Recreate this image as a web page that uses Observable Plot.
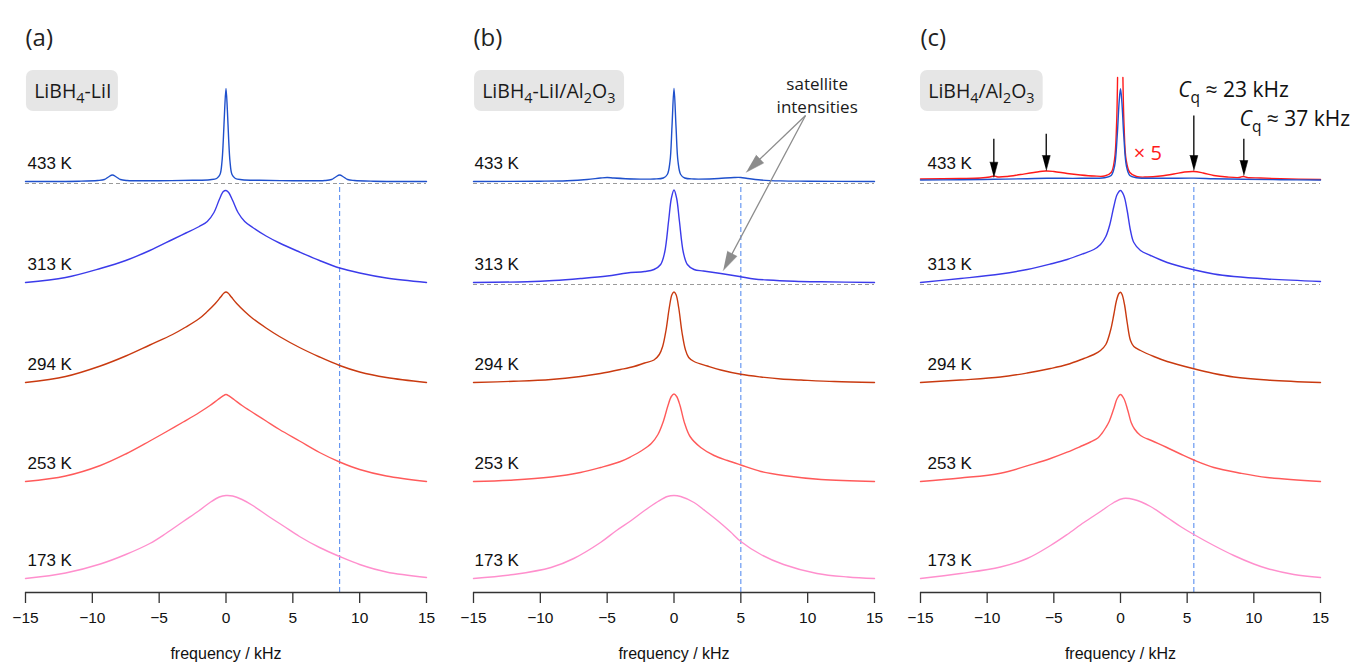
<!DOCTYPE html>
<html><head><meta charset="utf-8">
<script src="https://cdn.jsdelivr.net/npm/d3@7"></script>
<script src="https://cdn.jsdelivr.net/npm/@observablehq/plot@0.6"></script>
<style>
body{margin:0;background:#fff;}
#wrap{position:relative;width:1353px;height:665px;overflow:hidden;background:#fff;}
#wrap svg{position:absolute;top:0;overflow:visible;}
</style></head><body><div id="wrap"></div>
<script>
// ---------- data ----------
const temperatures = ["433 K", "313 K", "294 K", "253 K", "173 K"];
const offsets = [411, 310, 210, 111, 14];          // stacking offsets of the spectra
const traceColors = ["#1f50cc", "#3b3bea", "#c93a10", "#ff5a5a", "#ff8fcd"];
const xTicks = [-15, -10, -5, 0, 5, 10, 15];

// (a) LiBH4-LiI  [frequency kHz, intensity]
const a433 = [[-15,0],[-11,0.3],[-9.6,1],[-9.1,2],[-8.8,4.5],[-8.5,6.5],[-8.2,4.5],[-7.9,2],[-7.4,1],[-5,0.8],[-2.5,1.2],[-1.2,1.8],[-0.7,3],[-0.45,7],[-0.3,20],[-0.2,42],[-0.1,72],[0,93],[0.1,72],[0.2,42],[0.3,20],[0.45,7],[0.7,3],[1.2,1.8],[2.5,1.2],[5,0.8],[7.4,1],[7.9,2],[8.2,4.5],[8.5,6.5],[8.8,4.5],[9.1,2],[9.6,1],[11,0.3],[15,0]];
const a313 = [[-15,0],[-12,5],[-9.4,14],[-7.5,22],[-5.7,32],[-4,43],[-3,49.5],[-2,56],[-1.4,61],[-0.9,70],[-0.5,83],[-0.2,91],[0,92],[0.2,90],[0.5,82],[0.9,70],[1.4,61],[2,55],[3,46.5],[4,39.5],[5.5,30.5],[7,22],[8.5,14.5],[10,9.5],[12,4.5],[15,0]];
const a294 = [[-15,0],[-12,6],[-9.4,16.5],[-7.5,26.5],[-5.7,37.5],[-4,48],[-3,55.5],[-2,64],[-1.4,71],[-0.8,79],[-0.4,85.5],[-0.15,89.5],[0,90.5],[0.15,89.5],[0.4,85.5],[0.8,79],[1.4,71],[2,64],[3,54.5],[4,46],[5.5,35],[7,25.5],[8.5,17],[10,10.5],[12,5],[15,0]];
const a253 = [[-15,0],[-12,5.5],[-9.4,16],[-7.5,27.5],[-5.7,40.5],[-4.5,49.5],[-3.2,59.5],[-2,69],[-1.2,76],[-0.6,82],[-0.25,85.3],[0,87],[0.25,85.3],[0.6,82],[1.2,76],[2,69],[3,60.5],[4,52],[5.5,40.5],[7,29],[8.5,19.5],[10,12],[12,5.5],[15,0]];
const a173 = [[-15,0],[-12,5.5],[-9.4,14.5],[-7.5,24],[-5.7,35],[-4.5,45],[-3.2,57],[-2,68],[-1.2,76],[-0.5,81.5],[0,83],[0.5,82.5],[1.2,79],[2,73],[3.2,62],[4.3,52.5],[5.5,42],[7,31],[8.5,22],[10,14],[12,6.5],[15,1]];

// (b) LiBH4-LiI/Al2O3
const b433 = [[-15,0],[-10,0.3],[-8,0.8],[-6.5,2],[-5.5,3.5],[-5,4],[-4.5,3.5],[-3,2.5],[-1.5,2.5],[-0.8,3.5],[-0.5,7],[-0.3,20],[-0.15,55],[0,93],[0.15,55],[0.3,20],[0.5,7],[0.8,3.5],[1.5,2.5],[3,2.8],[4.5,4],[5,4],[5.5,3],[6.5,1.5],[8,0.6],[10,0.3],[15,0]];
const b313 = [[-15,0],[-11,0.8],[-9,2],[-7,4],[-5,6.5],[-3.5,9.5],[-2.2,11],[-1.5,13],[-1,18],[-0.7,30],[-0.4,62],[-0.2,84],[0,92.5],[0.2,84],[0.4,62],[0.7,30],[1,18],[1.5,13],[2.2,11.5],[3.5,9],[4.9,6],[6,3.5],[7,2.5],[9,1.3],[11,0.7],[15,0]];
const b294 = [[-15,0],[-12,1.2],[-9.2,3],[-7,6],[-5.5,9],[-4,13],[-3,16],[-2.2,19.5],[-1.5,22.5],[-1.1,28],[-0.85,36],[-0.6,52],[-0.35,75],[-0.15,88],[0,90.5],[0.15,88],[0.35,75],[0.6,50],[0.85,33],[1.1,25],[1.5,21],[2.5,16.5],[3.5,12.5],[5,8.2],[6.5,5.5],[8,3.5],[9.5,2.5],[12,1],[15,0]];
const b253 = [[-15,0],[-12,1.5],[-9.2,4.5],[-7,9],[-5.5,14],[-4,20],[-3.2,25],[-2.4,31],[-1.7,38],[-1.2,47],[-0.8,60],[-0.45,76],[-0.2,85],[0,87.5],[0.2,85],[0.45,76],[0.8,58],[1.2,45],[2,34],[3,26],[4,21],[5,16.5],[6.5,10],[8.2,6],[11,2],[15,0]];
const b173 = [[-15,0],[-12,4],[-9.2,11],[-7.5,20],[-5.5,36],[-4.3,48],[-3.2,58],[-2.2,68],[-1.2,77],[-0.5,82],[0,83],[0.5,82],[1.5,76],[2.3,68],[3.25,58],[4.2,47],[5,37],[6.5,24],[8.2,14],[10.7,5],[13,1.5],[15,0]];

// (c) LiBH4/Al2O3
const c433 = [[-15,1.5],[-12,1.8],[-9.5,2.2],[-7,2.8],[-5.5,3.2],[-3,3.2],[-1.2,3.8],[-0.7,6],[-0.45,15],[-0.25,45],[-0.1,80],[0,92.7],[0.1,80],[0.25,45],[0.45,15],[0.7,6],[1.2,3.8],[3,3.2],[5.5,3.4],[7,2.8],[9.2,2.2],[12,1.8],[15,1.5]];
const c313 = [[-15,0],[-12,4],[-9,8.5],[-7,13],[-5.25,18.5],[-4,23],[-2.75,29],[-2,33],[-1.5,38],[-1.1,46],[-0.8,58],[-0.5,76],[-0.25,88],[0,92],[0.25,87],[0.5,72],[0.75,52],[1,40],[1.5,32],[2.25,27],[3.5,20],[5.5,12.7],[7,8.5],[8.5,6],[11,3.5],[15,1]];
const c294 = [[-15,0],[-12,2.5],[-9,5.5],[-7,9.5],[-5.25,14],[-4,18],[-2.75,24],[-2,28],[-1.5,32],[-1.1,38],[-0.75,52],[-0.5,68],[-0.3,82],[-0.12,89],[0,90.3],[0.12,88],[0.3,78],[0.5,60],[0.75,42],[1,36],[1.5,32],[2.5,26],[3.5,21],[5.5,13.7],[7,9],[8.5,5.5],[11,2.5],[15,0]];
const c253 = [[-15,0],[-12,3.5],[-9,8.3],[-6.5,17.7],[-5.25,23],[-4,29.3],[-3,35],[-2.25,39.5],[-1.7,43.5],[-1.4,48],[-1.1,54],[-0.85,60],[-0.5,73],[-0.25,83],[0,87],[0.25,83],[0.55,71],[0.8,59],[1.05,52.5],[1.5,46],[2.4,40.5],[3.4,34.5],[4.5,27.5],[5.5,21.5],[7,14],[9,8.3],[11,4],[15,0]];
const c173 = [[-15,0],[-12,5],[-9,11.5],[-7,20],[-5.25,33],[-4,44],[-2.75,56],[-1.5,67],[-0.5,76],[0.2,80],[1,79],[2.25,72],[3.5,61],[4.5,52],[5.5,44],[7,33],[8.5,23],[10,14.5],[11,10],[13,4],[15,1]];
// 433 K scaled x5 (runs off the top at the central line)
const c433x5Left = [[-15,2.5],[-12,3],[-10.5,3.5],[-9.8,4.5],[-9.5,5.5],[-9.2,4.5],[-8.5,5],[-7.5,7],[-6.5,9],[-5.6,10.5],[-5,10],[-4,8],[-3,6.5],[-2,5.5],[-1.2,5.5],[-0.7,9],[-0.45,22],[-0.3,55],[-0.22,104]];
const c433x5Right = [[0.18,104],[0.27,55],[0.42,22],[0.7,9],[1.2,5],[2,4.5],[3,5.5],[4,7.5],[4.8,9.5],[5.5,10],[6.2,8.5],[7,6],[8,4.5],[8.9,4],[9.2,5],[9.5,4],[10.5,3.5],[12,2.8],[15,2]];

// ---------- annotations ----------
const panels = [
  {left: 0, width: 451, mL: 25, mR: 25, tag: "(a)", sample: "LiBH_4-LiI", box: [-14.93, -8.05], sampleX: -14.35,
   spectra: [a433, a313, a294, a253, a173], guides: [409], sat: 8.5, labelDx: 2},
  {left: 448, width: 451, mL: 25, mR: 25, tag: "(b)", sample: "LiBH_4-LiI/Al_2O_3", box: [-14.92, -3.70], sampleX: -14.35,
   spectra: [b433, b313, b294, b253, b173], guides: [409, 308], sat: 5.0, labelDx: 1,
   notes: [{x: 10.71, y: 498.7, text: "satellite\nintensities"}],
   arrows: [{fx: 9.84, fy: 477, tx: 5.40, ty: 420.3}, {fx: 9.84, fy: 477, tx: 3.68, ty: 322}],
   arrowColor: "#8c8c8c", headLen: 19, headHalf: 5.5},
  {left: 895, width: 458, mL: 25, mR: 33, tag: "(c)", sample: "LiBH_4/Al_2O_3", box: [-15, -5.8], sampleX: -14.42,
   spectra: [c433, c313, c294, c253, c173], guides: [409, 308], sat: 5.5, labelDx: 7,
   scaled: [c433x5Left, c433x5Right],
   cq: [{x: 4.33, y: 502, text: "*C*_q ≈ 23 kHz"}, {x: 8.93, y: 473, text: "*C*_q ≈ 37 kHz"}],
   times5: [{x: 1.0, y: 438.7, text: "× 5"}],
   arrows: [{fx: -9.5, fy: 453.7, tx: -9.5, ty: 415.3}, {fx: -5.57, fy: 458.7, tx: -5.57, ty: 422},
            {fx: 5.5, fy: 477, tx: 5.5, ty: 422}, {fx: 9.25, fy: 453.7, tx: 9.25, ty: 417}],
   arrowColor: "#000", headLen: 15, headHalf: 4}
];

const sansUI = "'Open Sans', 'Noto Sans', sans-serif";

function arrowGeometry(arrows, kx, len, half) {
  const shafts = [], heads = [];
  arrows.forEach((a, k) => {
    const dx = (a.tx - a.fx) * kx, dy = a.ty - a.fy;
    const L = Math.hypot(dx, dy), ux = dx / L, uy = dy / L;
    const bx = a.tx - ux * len / kx, by = a.ty - uy * len;
    const sx = a.tx - ux * len * 0.6 / kx, sy = a.ty - uy * len * 0.6;
    const nx = -uy, ny = ux;
    shafts.push({x1: a.fx, y1: a.fy, x2: sx, y2: sy});
    heads.push({id: k, x: a.tx, y: a.ty},
               {id: k, x: bx + nx * half / kx, y: by + ny * half},
               {id: k, x: bx - nx * half / kx, y: by - ny * half});
  });
  return {shafts, heads};
}

function richText(svg) {
  const ns = "http://www.w3.org/2000/svg";
  svg.querySelectorAll("text").forEach(t => {
    const s = t.textContent;
    if (!/[_*]/.test(s) || t.querySelector("tspan")) return;
    const fs = parseFloat(t.getAttribute("font-size") || getComputedStyle(t).fontSize) || 16;
    while (t.firstChild) t.removeChild(t.firstChild);
    let italic = false, buf = "", pending = 0;
    const span = (txt, attrs) => {
      const e = document.createElementNS(ns, "tspan");
      for (const k in attrs) e.setAttribute(k, attrs[k]);
      e.textContent = txt; t.appendChild(e); return e;
    };
    const flush = () => {
      if (!buf) return;
      const attrs = {};
      if (italic) attrs["font-style"] = "italic";
      if (pending) { attrs.dy = -pending; pending = 0; }
      span(buf, attrs); buf = "";
    };
    for (let i = 0; i < s.length; i++) {
      const c = s[i];
      if (c === "*") { flush(); italic = !italic; continue; }
      if (c === "_") {
        flush();
        const sh = Math.round(fs * 0.27);
        span(s[i + 1], {"font-size": (fs * 0.74).toFixed(1), dy: sh});
        pending = sh; i++; continue;
      }
      buf += c;
    }
    flush();
  });
}

const wrap = document.getElementById("wrap");

panels.forEach(p => {
  const kx = (p.width - p.mL - p.mR) / 30;
  const marks = [];
  // baseline guides and satellite marker
  marks.push(Plot.ruleY(p.guides, {stroke: "#9a9a9a", strokeDasharray: "4,3", strokeWidth: 1}));
  marks.push(Plot.ruleX([p.sat], {y1: () => 0, y2: () => 409, stroke: "#5b8ff0", strokeDasharray: "5,3", strokeWidth: 1.1}));
  // scaled (x5) trace
  if (p.scaled) {
    const rows = [];
    p.scaled.forEach((seg, k) => seg.forEach(([f, h]) => rows.push({f, y: h + offsets[0], seg: k})));
    marks.push(Plot.line(rows, {x: "f", y: "y", z: "seg", stroke: "#ff1a1a", strokeWidth: 1.4, curve: "catmull-rom"}));
  }
  // spectra
  p.spectra.forEach((s, i) => {
    marks.push(Plot.line(s.map(([f, h]) => ({f, y: h + offsets[i]})),
      {x: "f", y: "y", stroke: traceColors[i], strokeWidth: 1.4, curve: "catmull-rom"}));
  });
  // temperature labels
  marks.push(Plot.text(temperatures.map((t, i) => ({t, y: offsets[i]})),
    {x: () => -15, y: "y", text: "t", dx: p.labelDx, dy: -18, textAnchor: "start", fontSize: 17, fill: "#111"}));
  // sample box
  marks.push(Plot.rect([{x1: p.box[0], x2: p.box[1], y1: 481, y2: 522}],
    {x1: "x1", x2: "x2", y1: "y1", y2: "y2", fill: "#e6e6e6", rx: 7}));
  marks.push(Plot.text([{x: p.sampleX, y: 501, text: p.sample}],
    {x: "x", y: "y", text: "text", textAnchor: "start", fontSize: 19.5, fontFamily: sansUI, fill: "#1a1a1a"}));
  // panel tag
  marks.push(Plot.text([p.tag], {frameAnchor: "top-left", dx: 0, dy: 28, textAnchor: "start", fontSize: 24, fontFamily: sansUI, fill: "#222"}));
  // notes
  if (p.notes) marks.push(Plot.text(p.notes, {x: "x", y: "y", text: "text", fontSize: 17, lineHeight: 1.36, fontFamily: sansUI, fill: "#1a1a1a"}));
  if (p.cq) marks.push(Plot.text(p.cq, {x: "x", y: "y", text: "text", textAnchor: "start", fontSize: 21, fontFamily: sansUI, fill: "#111"}));
  if (p.times5) marks.push(Plot.text(p.times5, {x: "x", y: "y", text: "text", textAnchor: "start", fontSize: 20, fontFamily: sansUI, fill: "#ff1a1a"}));
  // arrows
  if (p.arrows) {
    const g = arrowGeometry(p.arrows, kx, p.headLen, p.headHalf);
    marks.push(Plot.link(g.shafts, {x1: "x1", y1: "y1", x2: "x2", y2: "y2", stroke: p.arrowColor, strokeWidth: 1.3}));
    marks.push(Plot.line(g.heads, {x: "x", y: "y", z: "id", fill: p.arrowColor, stroke: p.arrowColor, strokeWidth: 0.5}));
  }
  // axis
  marks.push(Plot.ruleY([0], {stroke: "#333", strokeWidth: 1.3}));
  marks.push(Plot.axisX({ticks: xTicks, tickSize: 11, tickPadding: 8, fontSize: 15.5, color: "#111", stroke: "#333", strokeWidth: 1.3, label: null}));
  marks.push(Plot.text(["frequency / kHz"], {frameAnchor: "bottom", dy: 66, fontSize: 16, fill: "#111"}));

  const svg = Plot.plot({
    width: p.width, height: 665,
    marginLeft: p.mL, marginRight: p.mR, marginTop: 0, marginBottom: 73,
    x: {domain: [-15, 15]},
    y: {domain: [0, 592], axis: null},
    style: {fontFamily: "'Liberation Sans', Arial, sans-serif", fontSize: "15.5px", background: "transparent", overflow: "visible", maxWidth: "none"},
    marks
  });
  svg.style.left = p.left + "px";
  wrap.appendChild(svg);
  richText(svg);
});
</script></body></html>
